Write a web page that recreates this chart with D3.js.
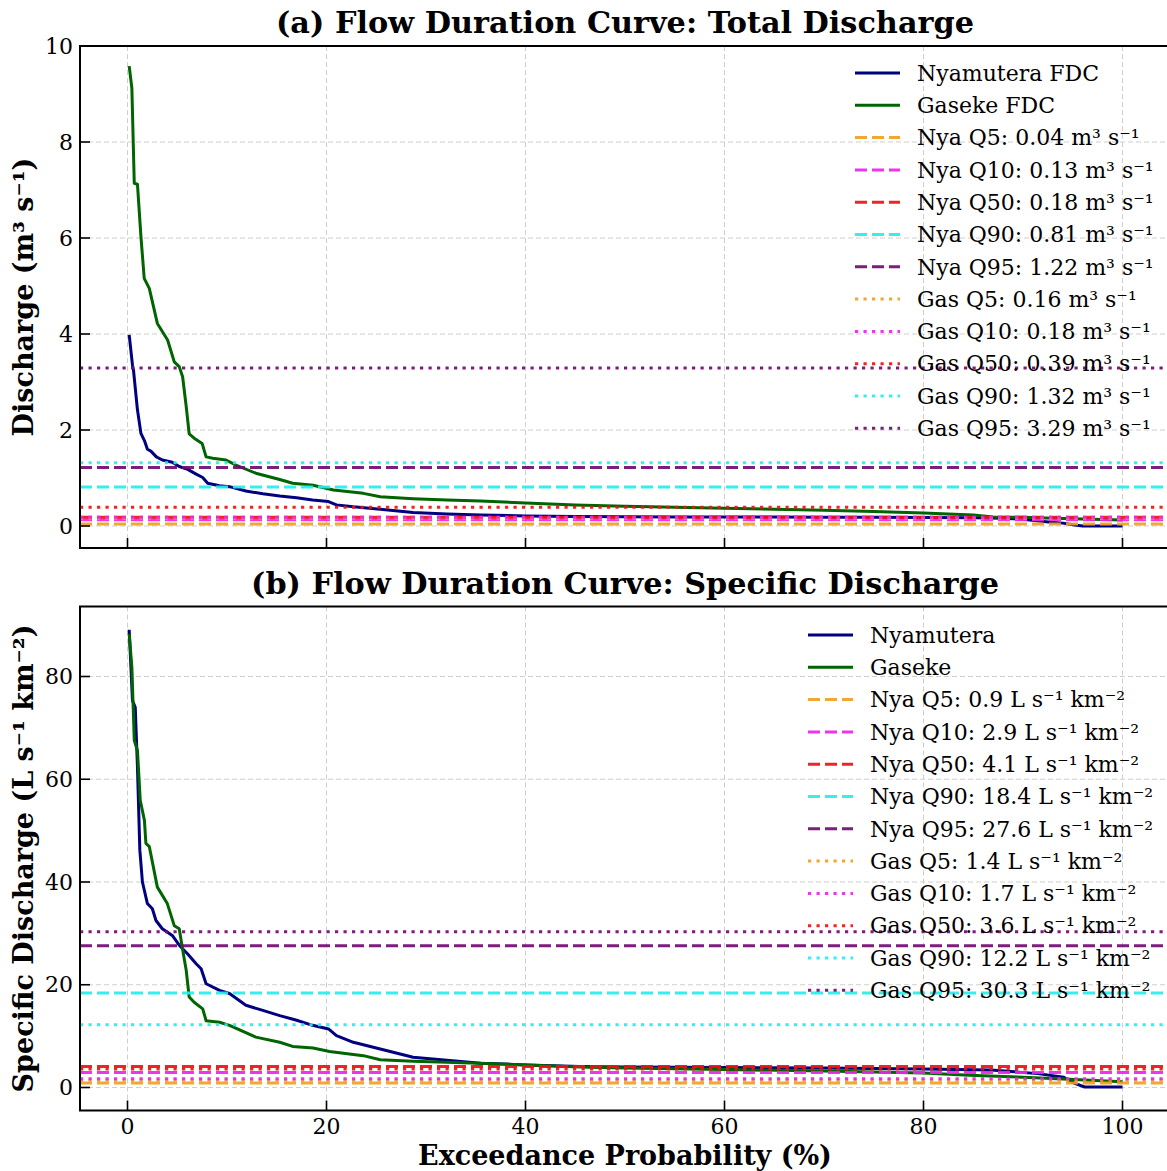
<!DOCTYPE html>
<html>
<head>
<meta charset="utf-8">
<script src="https://cdn.jsdelivr.net/npm/d3@7"></script>
<style>
  html, body { margin: 0; padding: 0; background: #fff; }
  svg { display: block; }
  text { font-family: "DejaVu Serif", serif; fill: #000; }
</style>
</head>
<body>
<svg id="chart" width="1167" height="1171"></svg>
<script>
// ---- Flow duration curves: exceedance probability (%) vs discharge ----
const xTicks = [0, 20, 40, 60, 80, 100];
const yTicksA = [0, 2, 4, 6, 8, 10];
const yTicksB = [0, 20, 40, 60, 80];

// (a) total discharge, m³ s⁻¹
const nyaTotalP = [0.17, 0.5, 0.6, 1.0, 1.35, 1.7, 2.0, 2.35, 2.9, 3.5, 4.5, 5.2, 6.05, 6.9, 7.56, 8.06, 9.24, 10.25, 11.9, 13.6, 15.3, 17, 18.6, 20.2, 21, 22.7, 25.4, 28.7, 32.1, 35.5, 40, 45, 50, 55, 60, 65, 70, 75, 80, 85, 88, 90, 92.3, 94, 95.2, 96, 98, 100];
const nyaTotalQ = [3.98, 3.35, 3.25, 2.42, 1.93, 1.78, 1.6, 1.56, 1.44, 1.375, 1.33, 1.24, 1.18, 1.08, 1.01, 0.89, 0.84, 0.82, 0.73, 0.67, 0.625, 0.59, 0.54, 0.51, 0.44, 0.40, 0.35, 0.28, 0.25, 0.23, 0.21, 0.2, 0.195, 0.19, 0.19, 0.185, 0.18, 0.18, 0.175, 0.17, 0.16, 0.14, 0.09, 0.06, 0.02, 0.0, 0.0, 0.0];
const gasTotalP = [0.17, 0.44, 0.68, 1.0, 1.35, 1.68, 2.19, 3.0, 4.03, 4.7, 5.2, 5.54, 5.9, 6.2, 6.7, 7.5, 7.9, 8.57, 9.9, 10.9, 12.9, 15.3, 16.6, 18.65, 20.7, 23.7, 25.4, 28.7, 32.1, 35.5, 40, 45, 50, 55, 60, 65, 70, 75, 80, 85, 87, 90, 92.3, 95, 100];
const gasTotalQ = [9.58, 9.12, 7.14, 7.12, 6.03, 5.16, 4.95, 4.22, 3.875, 3.42, 3.32, 3.11, 2.49, 1.92, 1.83, 1.72, 1.44, 1.41, 1.375, 1.27, 1.10, 0.97, 0.89, 0.85, 0.75, 0.68, 0.61, 0.57, 0.54, 0.52, 0.48, 0.44, 0.41, 0.39, 0.37, 0.35, 0.33, 0.30, 0.27, 0.23, 0.19, 0.18, 0.165, 0.15, 0.125];

// (b) specific discharge, L s⁻¹ km⁻²
const nyaSpecP = [0.17, 0.5, 0.78, 1.0, 1.24, 1.5, 2.0, 2.5, 2.86, 3.5, 4.5, 5.2, 6.05, 6.9, 7.4, 7.9, 9.25, 10.25, 11.9, 13.6, 15.3, 17, 18.6, 20.2, 21, 22.7, 25.4, 28.7, 32.1, 35.5, 40, 45.5, 50, 60, 70, 80, 86.8, 91.5, 94.1, 95.2, 96.2, 100];
const nyaSpecQ = [89.1, 75.3, 74, 62.4, 46.2, 40, 35.8, 34.8, 32.5, 30.9, 29.6, 27.7, 26, 24.1, 23.1, 20.2, 18.9, 18.3, 16.0, 15.0, 14.0, 13.1, 12.1, 11.4, 10.1, 8.8, 7.5, 5.9, 5.3, 4.7, 4.4, 4.1, 4.0, 3.9, 3.8, 3.6, 3.4, 2.7, 2.0, 0.8, 0.1, 0.1];
const gasSpecP = [0.17, 0.44, 0.68, 1.0, 1.28, 1.7, 1.85, 2.19, 3.0, 4.0, 4.7, 5.2, 5.5, 5.9, 6.2, 6.7, 7.56, 7.9, 9.25, 10.25, 12.9, 15.3, 16.6, 18.65, 20.3, 23.7, 25.4, 28.7, 32.1, 38.8, 45.5, 50, 60, 70, 80, 84.6, 90, 94.6, 100];
const gasSpecQ = [88.3, 81.8, 67.6, 65.6, 55.9, 52, 47.5, 46.9, 39, 35.8, 31.5, 30.9, 27.3, 22.8, 17.6, 16.6, 15.3, 13.0, 12.7, 12.1, 9.8, 8.8, 8.0, 7.7, 7.0, 6.2, 5.4, 5.1, 4.9, 4.5, 4.0, 3.8, 3.5, 3.2, 2.8, 2.4, 2.0, 1.6, 1.1];

// Flow percentile reference levels
const pctNames = ["Q5", "Q10", "Q50", "Q90", "Q95"];
const pctColors = ["#f0a020", "#ee22ee", "#ee1111", "#22eeee", "#720a72"];
const nyaTotalLevels = [0.04, 0.13, 0.18, 0.81, 1.22];
const gasTotalLevels = [0.16, 0.18, 0.39, 1.32, 3.29];
const nyaSpecLevels = [0.9, 2.9, 4.1, 18.4, 27.6];
const gasSpecLevels = [1.4, 1.7, 3.6, 12.2, 30.3];

const svg = d3.select("#chart");
const NAVY = "#000080", GREEN = "#006400";
const DASH = "12,5", DOT = "3.2,5.3";

const x = d3.scaleLinear().domain([0, 100]).range([127.5, 1122.5]);
const plotLeft = 80, plotRight = 1172;

function panel(cfg) {
  const y = d3.scaleLinear().domain(cfg.yDomain).range(cfg.yRange);
  const g = svg.append("g");
  const clipId = "clip-" + cfg.id;
  svg.append("clipPath").attr("id", clipId).append("rect")
    .attr("x", plotLeft).attr("y", cfg.top)
    .attr("width", plotRight - plotLeft).attr("height", cfg.bottom - cfg.top);

  // grid
  const grid = g.append("g").attr("stroke", "#cfcfcf").attr("stroke-width", 1)
    .attr("stroke-dasharray", "5,3");
  xTicks.forEach(t => grid.append("line")
    .attr("x1", x(t)).attr("x2", x(t)).attr("y1", cfg.top).attr("y2", cfg.bottom));
  cfg.yTicks.forEach(t => grid.append("line")
    .attr("x1", plotLeft).attr("x2", plotRight).attr("y1", y(t)).attr("y2", y(t)));

  const plot = g.append("g").attr("clip-path", `url(#${clipId})`);
  const line = d3.line().x(d => x(d[0])).y(d => y(d[1]));
  cfg.curves.forEach(c => {
    plot.append("path")
      .datum(d3.zip(c.p, c.q))
      .attr("d", line)
      .attr("fill", "none").attr("stroke", c.color).attr("stroke-width", 3)
      .attr("stroke-linejoin", "round");
  });

  // percentile levels
  const levels = [];
  cfg.nyaLevels.forEach((v, i) => levels.push({ v, color: pctColors[i], dash: DASH,
    label: `Nya ${pctNames[i]}: ${cfg.fmt(v)} ${cfg.unit}` }));
  cfg.gasLevels.forEach((v, i) => levels.push({ v, color: pctColors[i], dash: DOT,
    label: `Gas ${pctNames[i]}: ${cfg.fmt(v)} ${cfg.unit}` }));
  levels.forEach(l => plot.append("line")
    .attr("x1", plotLeft).attr("x2", plotRight).attr("y1", y(l.v)).attr("y2", y(l.v))
    .attr("stroke", l.color).attr("stroke-width", 3).attr("stroke-opacity", 0.92)
    .attr("stroke-dasharray", l.dash));

  // spines
  g.append("rect").attr("x", plotLeft).attr("y", cfg.top)
    .attr("width", plotRight - plotLeft).attr("height", cfg.bottom - cfg.top)
    .attr("fill", "none").attr("stroke", "#000").attr("stroke-width", 2);

  // inward ticks
  xTicks.forEach(t => g.append("line")
    .attr("x1", x(t)).attr("x2", x(t)).attr("y1", cfg.bottom).attr("y2", cfg.bottom - 10)
    .attr("stroke", "#000").attr("stroke-width", 1.6));
  cfg.yTicks.forEach(t => {
    g.append("line").attr("x1", plotLeft).attr("x2", plotLeft + 10)
      .attr("y1", y(t)).attr("y2", y(t)).attr("stroke", "#000").attr("stroke-width", 1.6);
    g.append("text").attr("x", 73).attr("y", y(t)).attr("dy", "0.35em")
      .attr("text-anchor", "end").attr("font-size", 22).text(t);
  });
  if (cfg.xLabels) {
    xTicks.forEach(t => g.append("text").attr("x", x(t)).attr("y", cfg.bottom + 23)
      .attr("text-anchor", "middle").attr("font-size", 22).text(t));
  }

  // titles
  g.append("text").attr("x", 625).attr("y", cfg.top - 13).attr("text-anchor", "middle")
    .attr("font-size", 30.3).attr("font-weight", "bold").text(cfg.title);
  g.append("text")
    .attr("transform", `translate(33,${(cfg.top + cfg.bottom) / 2}) rotate(-90)`)
    .attr("text-anchor", "middle").attr("font-size", 27).attr("font-weight", "bold")
    .text(cfg.yLabel);

  // legend
  const items = [
    { label: cfg.curves[0].label, color: NAVY, dash: null },
    { label: cfg.curves[1].label, color: GREEN, dash: null },
    ...levels
  ];
  const leg = g.append("g");
  items.forEach((it, i) => {
    const yy = cfg.legY + i * 32.3;
    leg.append("line").attr("x1", cfg.legX).attr("x2", cfg.legX + 45)
      .attr("y1", yy).attr("y2", yy).attr("stroke", it.color).attr("stroke-width", 3)
      .attr("stroke-opacity", it.dash ? 0.92 : 1)
      .attr("stroke-dasharray", it.dash);
    leg.append("text").attr("x", cfg.legX + 62).attr("y", yy).attr("dy", "0.35em")
      .attr("font-size", 22).text(it.label);
  });
}

panel({
  id: "a", top: 46, bottom: 548, yDomain: [0, 10], yRange: [526, 46], yTicks: yTicksA,
  title: "(a) Flow Duration Curve: Total Discharge",
  yLabel: "Discharge (m³ s⁻¹)", unit: "m³ s⁻¹", fmt: d3.format(".2f"),
  curves: [
    { p: nyaTotalP, q: nyaTotalQ, color: NAVY, label: "Nyamutera FDC" },
    { p: gasTotalP, q: gasTotalQ, color: GREEN, label: "Gaseke FDC" }
  ],
  nyaLevels: nyaTotalLevels, gasLevels: gasTotalLevels,
  legX: 855, legY: 73, xLabels: false
});

panel({
  id: "b", top: 606.5, bottom: 1110.5, yDomain: [0, 80], yRange: [1087.5, 676.5], yTicks: yTicksB,
  title: "(b) Flow Duration Curve: Specific Discharge",
  yLabel: "Specific Discharge (L s⁻¹ km⁻²)", unit: "L s⁻¹ km⁻²", fmt: d3.format(".1f"),
  curves: [
    { p: nyaSpecP, q: nyaSpecQ, color: NAVY, label: "Nyamutera" },
    { p: gasSpecP, q: gasSpecQ, color: GREEN, label: "Gaseke" }
  ],
  nyaLevels: nyaSpecLevels, gasLevels: gasSpecLevels,
  legX: 808, legY: 635, xLabels: true
});

svg.append("text").attr("x", 625).attr("y", 1165).attr("text-anchor", "middle")
  .attr("font-size", 27).attr("font-weight", "bold").text("Exceedance Probability (%)");
</script>
</body>
</html>
